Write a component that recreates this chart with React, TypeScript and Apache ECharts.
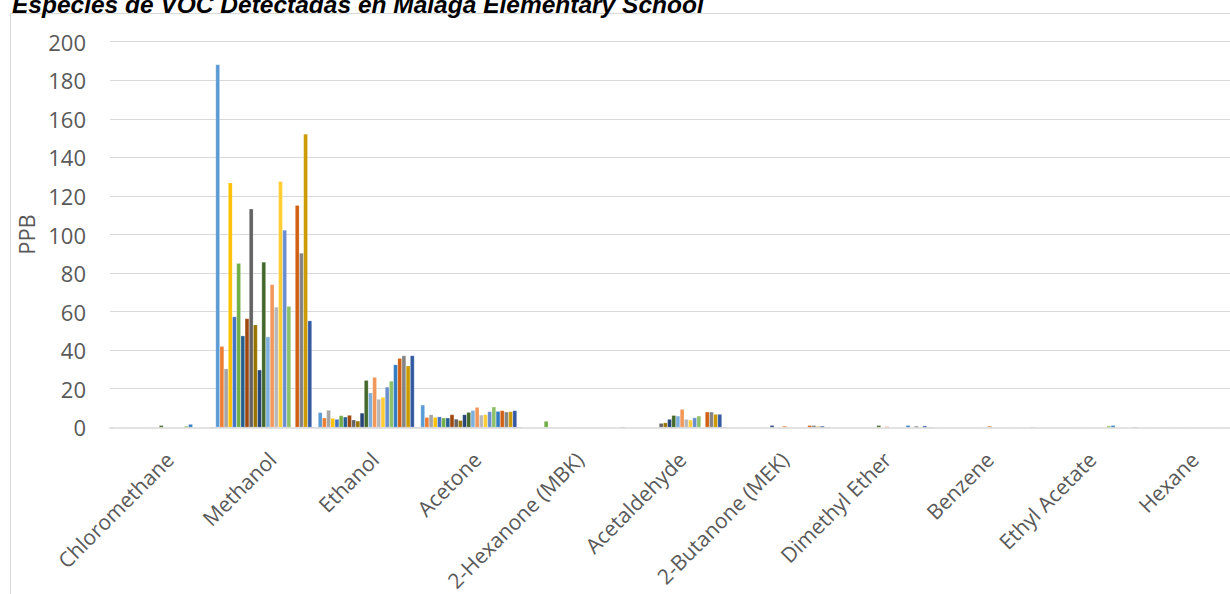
import React, { useEffect, useRef } from "react";
import * as echarts from "echarts";

const categories = [
  "Chloromethane",
  "Methanol",
  "Ethanol",
  "Acetone",
  "2-Hexanone (MBK)",
  "Acetaldehyde",
  "2-Butanone (MEK)",
  "Dimethyl Ether",
  "Benzene",
  "Ethyl Acetate",
  "Hexane",
];

const yTicks = [0, 20, 40, 60, 80, 100, 120, 140, 160, 180, 200];

// Values per compound, one entry per sample series (23 series)
const chloromethane = [0, 0, 0, 0, 0, 0, 0, 0, 0, 0, 0, 1.0, 0, 0, 0, 0, 0, 0.7, 1.6, 0, 0, 0, 0];
const methanol = [188.2, 42.0, 30.4, 126.8, 57.4, 85.0, 47.5, 56.4, 113.3, 53.2, 29.8, 85.7, 47.0, 74.1, 62.4, 127.6, 102.3, 62.8, 0, 115.2, 90.4, 152.1, 55.3];
const ethanol = [7.7, 4.9, 8.9, 4.7, 4.2, 6.1, 5.4, 6.3, 3.9, 3.3, 7.4, 24.4, 17.9, 26.0, 14.6, 15.6, 20.9, 24.0, 32.5, 35.8, 37.2, 31.9, 37.2];
const acetone = [11.6, 5.2, 6.6, 5.2, 5.5, 4.9, 4.9, 6.6, 4.3, 3.6, 6.6, 7.8, 8.8, 10.4, 6.4, 6.6, 8.2, 10.6, 8.3, 8.7, 8.0, 8.2, 8.7];
const hexanone = [0, 0, 0, 0, 0, 3.2, 0, 0, 0, 0, 0, 0, 0, 0, 0, 0, 0, 0, 0, 0, 0, 0, 0];
const acetaldehyde = [0, 0, 0, 0, 0, 0, 0, 0, 2.1, 2.4, 4.2, 6.2, 5.9, 9.4, 4.2, 3.8, 5.0, 5.9, 0, 8.0, 8.0, 6.8, 6.8];
const butanone = [0, 0, 0, 0, 0, 0, 0, 0, 0, 0, 1.0, 0, 0, 0.8, 0, 0, 0, 0, 0, 1.0, 1.0, 0.5, 0.7];
const dimethylEther = [0, 0, 0, 0, 0, 0, 0, 0, 0, 0, 0, 1.0, 0, 0.5, 0, 0, 0, 0, 1.0, 0, 0.7, 0, 0.8];
const benzene = [0, 0, 0, 0, 0, 0, 0, 0, 0, 0, 0, 0, 0, 0.8, 0, 0, 0, 0, 0, 0, 0, 0, 0];
const ethylAcetate = [0, 0, 0, 0, 0, 0, 0, 0, 0, 0, 0, 0, 0, 0, 0, 0, 0, 0.8, 1.0, 0, 0, 0, 0];
const hexane = [0, 0, 0, 0, 0, 0, 0, 0, 0, 0, 0, 0, 0, 0, 0, 0, 0, 0, 0, 0, 0, 0, 0];

const compoundRows = [
  chloromethane,
  methanol,
  ethanol,
  acetone,
  hexanone,
  acetaldehyde,
  butanone,
  dimethylEther,
  benzene,
  ethylAcetate,
  hexane,
];

const seriesColors = [
  "#5B9BD5", "#ED7D31", "#A5A5A5", "#FFC000", "#4472C4", "#70AD47",
  "#255E91", "#9E480E", "#636363", "#997300", "#264478", "#43682B",
  "#7CAFDD", "#F1975A", "#B7B7B7", "#FFCD33", "#698ED0", "#8CC168",
  "#327DC2", "#D26012", "#848484", "#CC9A00", "#335AA1",
];

const titleText = "Especies de VOC Detectadas en Malaga Elementary School";

export default function App() {
  const ref = useRef<HTMLDivElement>(null);

  useEffect(() => {
    if (!ref.current) return;
    const chart = echarts.init(ref.current, null, { renderer: "svg" });
    const labelFont = "'Open Sans', sans-serif";

    const series = seriesColors.map((color, k) => ({
      name: "Muestra " + (k + 1),
      type: "bar",
      data: compoundRows.map((row) => row[k]),
      itemStyle: { color, borderColor: "rgba(255,255,255,0.5)", borderWidth: 0.4 },
      barGap: "0%",
      barCategoryGap: "6.1%",
    }));

    chart.setOption({
      animation: false,
      graphic: [
        {
          type: "rect",
          z: -10,
          shape: { x: 10.5, y: 13.5, width: 1400, height: 800 },
          style: { fill: "none", stroke: "#D9D9D9", lineWidth: 1 },
        },
        {
          type: "text",
          x: 12,
          y: -8,
          z: 10,
          style: {
            text: titleText,
            font: "italic bold 24.5px 'Liberation Sans', Arial, sans-serif",
            fill: "#000000",
            align: "left",
            verticalAlign: "top",
          },
        },
      ],
      grid: {
        left: 110,
        right: 12.5,
        top: 41.7,
        bottom: 166.7,
        containLabel: false,
        outerBoundsMode: "none",
      },
      xAxis: {
        type: "category",
        data: categories,
        axisLine: { show: true, lineStyle: { color: "#D9D9D9", width: 1.5 } },
        axisTick: { show: false },
        axisLabel: {
          rotate: 45,
          interval: 0,
          margin: 20,
          align: "right",
          verticalAlign: "top",
          lineHeight: 24,
          color: "#595959",
          fontSize: 21,
          fontFamily: labelFont,
        },
      },
      yAxis: {
        type: "value",
        min: yTicks[0],
        max: yTicks[yTicks.length - 1],
        interval: 20,
        name: "PPB",
        nameLocation: "middle",
        nameRotate: 90,
        nameGap: 72,
        nameTextStyle: { color: "#595959", fontSize: 22, fontFamily: labelFont },
        axisLine: { show: false },
        axisTick: { show: false },
        axisLabel: {
          margin: 24,
          color: "#595959",
          fontSize: 22,
          fontFamily: labelFont,
        },
        splitLine: { show: true, lineStyle: { color: "#D9D9D9", width: 1.2 } },
      },
      series,
    });

    return () => chart.dispose();
  }, []);

  return (
    <div
      style={{
        position: "fixed",
        left: 0,
        top: 0,
        width: 1230,
        height: 594,
        overflow: "hidden",
        background: "#ffffff",
      }}
    >
      <div ref={ref} style={{ width: 1250, height: 594 }} />
    </div>
  );
}
